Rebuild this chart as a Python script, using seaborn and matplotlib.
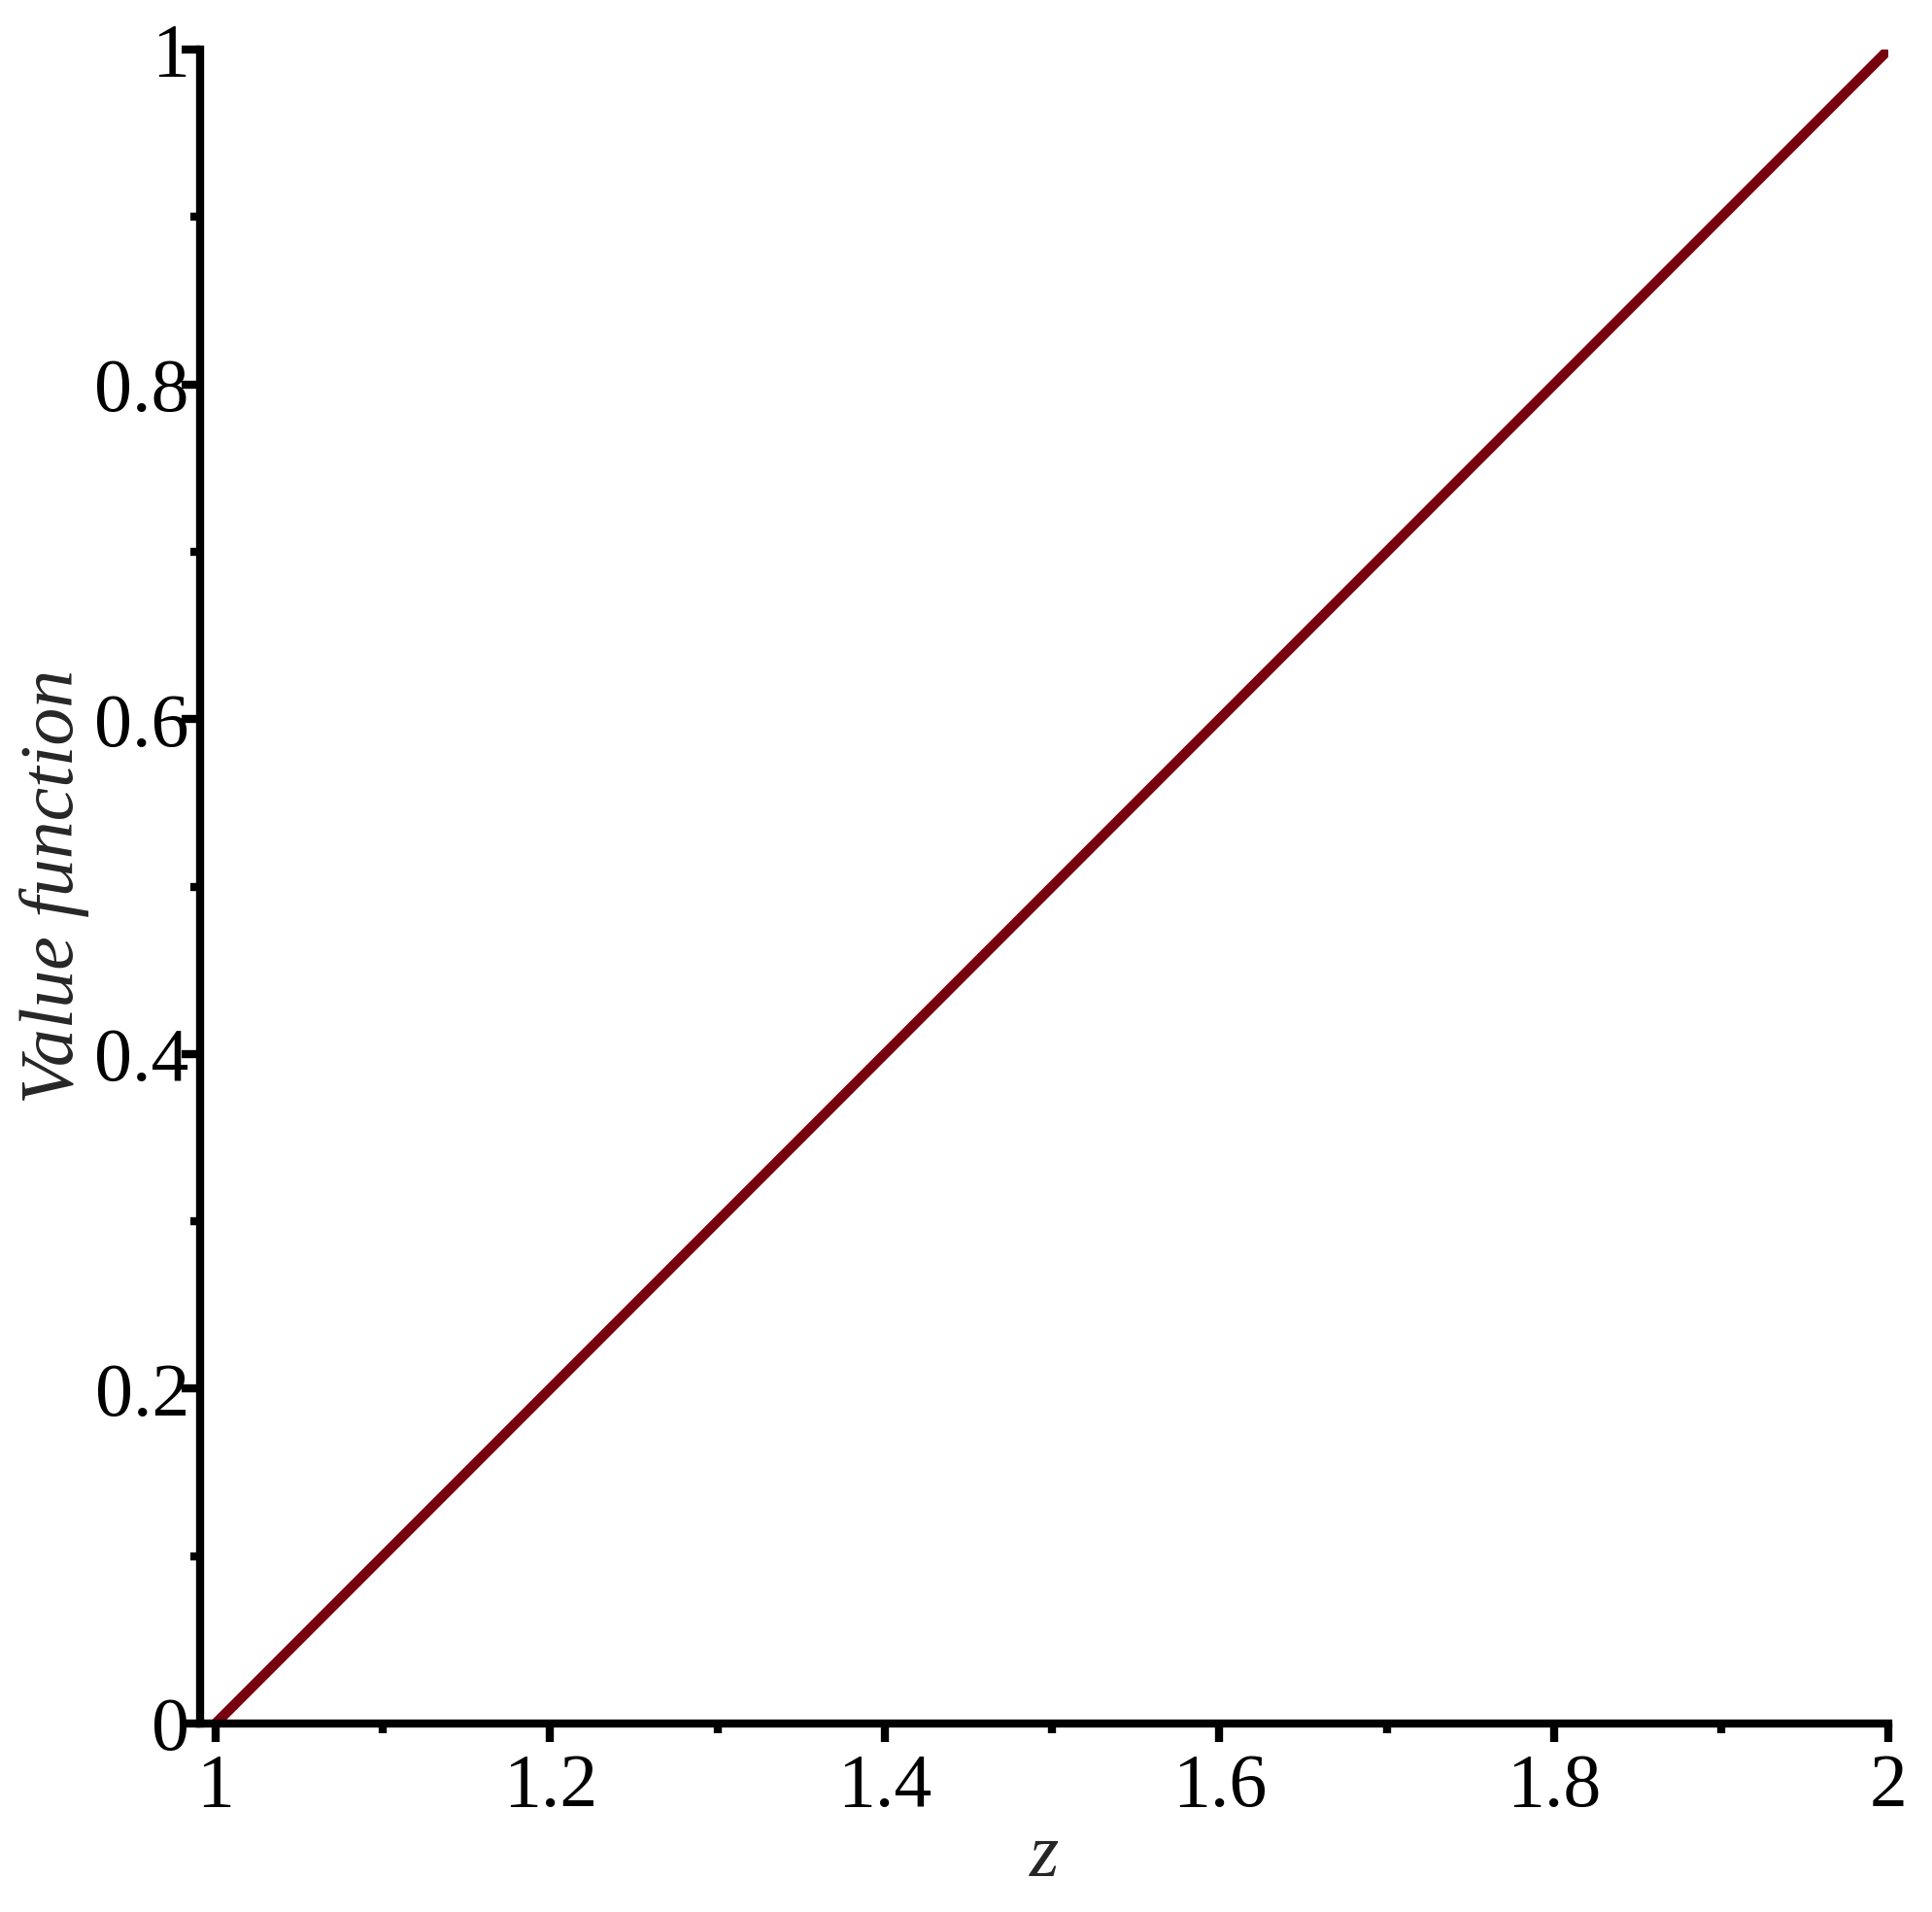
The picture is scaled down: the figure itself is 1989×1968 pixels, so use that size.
import matplotlib
matplotlib.use("Agg")
import matplotlib.pyplot as plt
import seaborn as sns
import pandas as pd
from matplotlib.ticker import MultipleLocator

# value function (looks linear from (1,0) to (2,1))
z_vals = [1.0, 1.1, 1.2, 1.3, 1.4, 1.5, 1.6, 1.7, 1.8, 1.9, 2.0]
value_vals = [0.0, 0.1, 0.2, 0.3, 0.4, 0.5, 0.6, 0.7, 0.8, 0.9, 1.0]
x_ticks = [1, 1.2, 1.4, 1.6, 1.8, 2]
y_ticks = [0, 0.2, 0.4, 0.6, 0.8, 1]
x_labels = ['1', '1.2', '1.4', '1.6', '1.8', '2']
y_labels = ['0', '0.2', '0.4', '0.6', '0.8', '1']

sns.set_style("ticks")
plt.rcParams['font.family'] = ['Liberation Serif', 'DejaVu Serif']

df = pd.DataFrame({"z": z_vals, "value": value_vals})

fig = plt.figure(figsize=(19.9, 19.68), dpi=100)
ax = fig.add_axes([0.1035, 0.0986, 0.8735, 0.8754])

sns.lineplot(data=df, x="z", y="value", ax=ax, color='#78000E', linewidth=7.5)

ax.set_xlim(0.9907, 2)
ax.set_ylim(0, 1)
ax.set_xticks(x_ticks)
ax.set_xticklabels(x_labels)
ax.set_yticks(y_ticks)
ax.set_yticklabels(y_labels)
ax.xaxis.set_minor_locator(MultipleLocator(0.1))
ax.yaxis.set_minor_locator(MultipleLocator(0.1))

for side in ['top', 'right']:
    ax.spines[side].set_visible(False)
for side in ['left', 'bottom']:
    ax.spines[side].set_linewidth(6)
    ax.spines[side].set_color('black')
    ax.spines[side].set_capstyle('projecting')

ax.tick_params(axis='both', which='major', length=14, width=6, labelsize=56,
               color='black', labelcolor='black', direction='out')
ax.tick_params(axis='both', which='minor', length=7, width=6, color='black',
               direction='out')
ax.tick_params(axis='y', which='major', pad=-6)
ax.tick_params(axis='x', which='major', pad=8)

ax.set_xlabel('z', fontsize=56, style='italic', labelpad=0)
ax.set_ylabel('Value function', fontsize=56, style='italic', labelpad=4)

fig.savefig("out.png", dpi=100, facecolor='white')
